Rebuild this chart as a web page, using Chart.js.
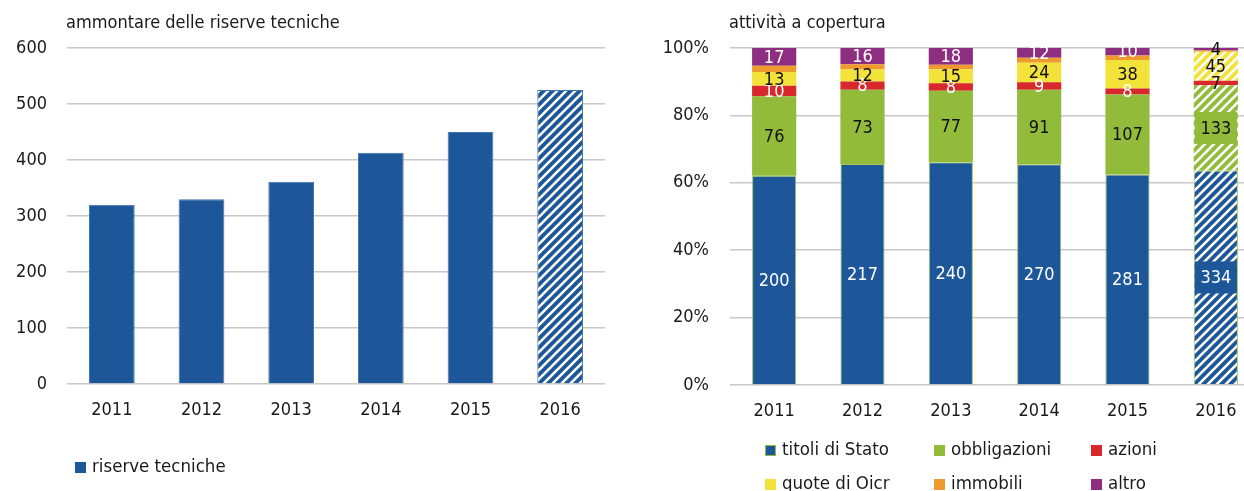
<!DOCTYPE html>
<html>
<head>
<meta charset="utf-8">
<script src="https://cdn.jsdelivr.net/npm/chart.js@4.4.1/dist/chart.umd.min.js"></script>
<style>
  html, body { margin: 0; padding: 0; background: #fff; }
  body { width: 1244px; height: 491px; overflow: hidden; position: relative;
         font-family: 'DejaVu Sans Condensed', sans-serif; color: #1a1a1a; }
  #left { position: absolute; left: 0; top: 0; }
  #right { position: absolute; left: 620px; top: 0; }
  .leg { position: absolute; font-size: 18.5px; white-space: nowrap; line-height: 20px; }
  .leg i { display: inline-block; width: 11px; height: 11px; margin-right: 6px; vertical-align: -1px; box-sizing: border-box; }
</style>
</head>
<body>
<canvas id="left" width="620" height="491"></canvas>
<canvas id="right" width="640" height="491"></canvas>
<div id="legends"></div>
<script>
// data
var years = ['2011', '2012', '2013', '2014', '2015', '2016'];
var riserve = [320, 330, 361, 413, 450, 525];

var titoliStato = [200, 217, 240, 270, 281, 334];
var obbligazioni = [76, 73, 77, 91, 107, 133];
var azioni = [10, 8, 8, 9, 8, 7];
var quoteOicr = [13, 12, 15, 24, 38, 45];
var immobili = [6, 5, 5, 6, 6, 2];
var altro = [17, 16, 18, 12, 10, 4];

var leftTicks = [0, 100, 200, 300, 400, 500, 600];
var rightTicks = [0, 20, 40, 60, 80, 100];

var FONT = "'DejaVu Sans Condensed', sans-serif";
Chart.defaults.font.family = FONT;
Chart.defaults.font.size = 18;
Chart.defaults.color = '#1a1a1a';

var BLUE = '#1d5799', GREEN = '#92bb3c', RED = '#d9282b', YELLOW = '#f2e23a', ORANGE = '#ee9a2f', PURPLE = '#8e2e80';

function hatch(color) {
    var n = 9;
    var c = document.createElement('canvas');
    c.width = n; c.height = n;
    var x = c.getContext('2d');
    x.fillStyle = color;
    x.fillRect(0, 0, n, n);
    x.strokeStyle = '#fff';
    x.lineWidth = 2.6;
    x.beginPath();
    x.moveTo(0, n); x.lineTo(n, 0);
    x.moveTo(-3, 3); x.lineTo(3, -3);
    x.moveTo(n - 3, n + 3); x.lineTo(n + 3, n - 3);
    x.stroke();
    return x.createPattern(c, 'repeat');
}

// last year is an estimate -> hatched
function colors(color, hatched) {
    return years.map(function (y, i) { return (hatched && i === years.length - 1) ? hatch(color) : color; });
}

// draws title text at the left of the plot area
var titlePlugin = {
    id: 'sideTitle',
    afterDraw: function (chart, args, opts) {
        var ctx = chart.ctx;
        ctx.save();
        ctx.font = "18px " + FONT;
        ctx.fillStyle = '#1a1a1a';
        ctx.textBaseline = 'middle';
        ctx.textAlign = 'left';
        ctx.fillText(opts.text, chart.chartArea.left - 1, 23);
        ctx.restore();
    }
};

function yAxis(width, pad, max, step, suffix) {
    return {
        min: 0, max: max, stacked: true,
        border: { display: false },
        grid: { color: '#c8c8c8', lineWidth: 1.5, drawTicks: false },
        ticks: { stepSize: step, padding: pad, callback: function (v) { return v + suffix; } },
        afterFit: function (s) { s.width = width; }
    };
}

var xAxis = {
    stacked: true,
    grid: { display: false },
    border: { display: false },
    ticks: { padding: 8 },
    afterFit: function (s) { s.height = 40; }
};

new Chart(document.getElementById('left').getContext('2d'), {
    type: 'bar',
    data: {
        labels: years,
        datasets: [{
            label: 'riserve tecniche',
            data: riserve,
            backgroundColor: colors(BLUE, true),
            borderColor: '#3f73b0',
            borderWidth: 1,
            categoryPercentage: 1,
            barPercentage: 0.51
        }]
    },
    options: {
        responsive: false,
        animation: false,
        layout: { padding: { top: 48, left: 0, right: 15, bottom: 67 } },
        plugins: { legend: { display: false }, tooltip: { enabled: false },
                   sideTitle: { text: 'ammontare delle riserve tecniche' } },
        scales: {
            x: xAxis,
            y: yAxis(67, 20, leftTicks[leftTicks.length - 1], leftTicks[1] - leftTicks[0], '')
        }
    },
    plugins: [titlePlugin]
});

// composition, shown as share of the yearly total
var series = [
    { label: 'titoli di Stato', values: titoliStato, color: BLUE, hatched: true, text: '#fff', box: true },
    { label: 'obbligazioni', values: obbligazioni, color: GREEN, hatched: true, text: '#111', box: true },
    { label: 'azioni', values: azioni, color: RED, hatched: false, text: '#fff' },
    { label: 'quote di Oicr', values: quoteOicr, color: YELLOW, hatched: true, text: '#111' },
    { label: 'immobili', values: immobili, color: ORANGE, hatched: false, text: null },
    { label: 'altro', values: altro, color: PURPLE, hatched: false, text: '#fff' }
];
var totals = years.map(function (y, i) {
    return series.reduce(function (s, d) { return s + d.values[i]; }, 0);
});

var labelPlugin = {
    id: 'segLabels',
    afterDatasetsDraw: function (chart) {
        var ctx = chart.ctx;
        ctx.save();
        ctx.font = "18px " + FONT;
        ctx.textAlign = 'center';
        ctx.textBaseline = 'middle';
        series.forEach(function (d, di) {
            if (!d.text) return;
            chart.getDatasetMeta(di).data.forEach(function (bar, i) {
                var cy = (bar.y + bar.base) / 2;
                var last = i === years.length - 1;
                if (last && d.box) {
                    ctx.fillStyle = d.color;
                    ctx.fillRect(bar.x - bar.width / 2 + 1, cy - 16, bar.width - 2, 32);
                }
                ctx.fillStyle = (last && !d.box) ? '#111' : d.text;
                ctx.fillText(String(d.values[i]), bar.x, cy + 1);
            });
        });
        ctx.restore();
    }
};

new Chart(document.getElementById('right').getContext('2d'), {
    type: 'bar',
    data: {
        labels: years,
        datasets: series.map(function (d, di) {
            return {
                label: d.label,
                data: d.values.map(function (v, i) { return v / totals[i] * 100; }),
                backgroundColor: colors(d.color, d.hatched),
                borderColor: di === 0 ? 'rgba(146,187,60,0.85)' : d.color,
                borderWidth: di === 0 ? 1 : 0,
                categoryPercentage: 1,
                barPercentage: 0.5
            };
        })
    },
    options: {
        responsive: false,
        animation: false,
        layout: { padding: { top: 48, left: 0, right: 0, bottom: 66 } },
        plugins: { legend: { display: false }, tooltip: { enabled: false },
                   sideTitle: { text: 'attività a copertura' } },
        scales: {
            x: xAxis,
            y: yAxis(110, 21, rightTicks[rightTicks.length - 1], rightTicks[1] - rightTicks[0], '%')
        }
    },
    plugins: [titlePlugin, labelPlugin]
});

// legends as real text
var legendHtml = '<div class="leg" style="left:75px;top:456px"><i style="background:' + BLUE + '"></i>riserve tecniche</div>';
var colX = [765, 934, 1091], rowY = [439, 473];
series.forEach(function (d, i) {
    var border = i === 0 ? 'border:1.5px solid ' + GREEN + ';' : '';
    legendHtml += '<div class="leg" style="left:' + colX[i % 3] + 'px;top:' + rowY[Math.floor(i / 3)] + 'px">' +
        '<i style="background:' + d.color + ';' + border + '"></i>' + d.label + '</div>';
});
document.getElementById('legends').innerHTML = legendHtml;
</script>
</body>
</html>
